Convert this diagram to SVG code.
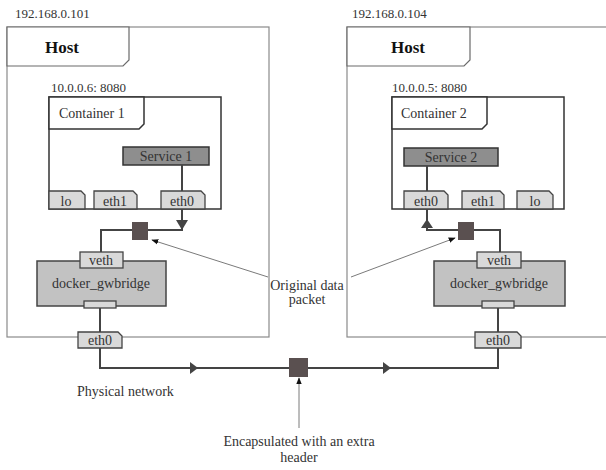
<svg xmlns="http://www.w3.org/2000/svg" width="606" height="470" viewBox="0 0 606 470">
  <style>
    text { font-family: "Liberation Serif", "DejaVu Serif", serif; fill: #333; }
    .ip { font-size: 13px; }
    .lbl { font-size: 14px; }
    .hosttitle { font-size: 17px; font-weight: bold; fill: #111; }
    .host { fill: #fff; stroke: #8a8a8a; stroke-width: 1.2; }
    .hosttab { fill: #fff; stroke: #6a6a6a; stroke-width: 1.2; }
    .cont { fill: #fff; stroke: #333; stroke-width: 1.5; }
    .svc { fill: #8e8e8e; stroke: #333; stroke-width: 1.5; }
    .iface { fill: #d9d9d9; stroke: #444; stroke-width: 1.3; }
    .bridge { fill: #c2c2c2; stroke: #444; stroke-width: 1.5; }
    .pkt { fill: #5a5050; }
    .wire { fill: none; stroke: #444; stroke-width: 2; }
    .head { fill: #444; }
    .call { fill: none; stroke: #7a7a7a; stroke-width: 1; }
  </style>
  <defs>
    <marker id="tip" viewBox="0 0 10 10" refX="9" refY="5" markerWidth="7" markerHeight="7" orient="auto">
      <path d="M0,1 L10,5 L0,9 Z" fill="#111"/>
    </marker>
  </defs>

  <!-- Left host -->
  <g id="host1">
    <text class="ip" x="15" y="18">192.168.0.101</text>
    <rect class="host" x="7" y="27" width="262" height="310"/>
    <path class="hosttab" d="M7,27 H129 V60 L123,66 H7 Z"/>
    <text class="hosttitle" x="45" y="53">Host</text>
  </g>
  <g id="container1">
    <text class="ip" x="51" y="92">10.0.0.6: 8080</text>
    <rect class="cont" x="49" y="97" width="172" height="112"/>
    <path class="cont" d="M49,97 H144 V124 L139,129 H49 Z"/>
    <text class="lbl" x="59" y="118">Container 1</text>
  </g>
  <g id="service1">
    <rect class="svc" x="123" y="147" width="86" height="18"/>
    <text class="lbl" x="166" y="161" text-anchor="middle">Service 1</text>
  </g>
  <g id="c1-lo">
    <path class="iface" d="M49,209 V191 H81 L85,195 V209 Z"/>
    <text class="lbl" x="66" y="206" text-anchor="middle">lo</text>
  </g>
  <g id="c1-eth1">
    <path class="iface" d="M94,209 V191 H133 L137,195 V209 Z"/>
    <text class="lbl" x="115" y="206" text-anchor="middle">eth1</text>
  </g>
  <g id="c1-eth0">
    <path class="iface" d="M161,209 V191 H201 L205,195 V209 Z"/>
    <text class="lbl" x="182" y="206" text-anchor="middle">eth0</text>
  </g>
  <g id="bridge1">
    <rect class="bridge" x="37" y="261" width="129" height="45"/>
    <rect class="iface" x="80" y="252" width="43" height="16"/>
    <text class="lbl" x="101" y="265" text-anchor="middle">veth</text>
    <text class="lbl" x="101" y="288" text-anchor="middle">docker_gwbridge</text>
    <rect class="iface" x="84" y="301" width="32" height="7"/>
  </g>
  <g id="host1-eth0">
    <path class="iface" d="M78,348 V332 H118 L122,336 V348 Z"/>
    <text class="lbl" x="100" y="345" text-anchor="middle">eth0</text>
  </g>

  <!-- Right host -->
  <g id="host2">
    <text class="ip" x="352" y="18">192.168.0.104</text>
    <rect class="host" x="347" y="27" width="300" height="310"/>
    <path class="hosttab" d="M347,27 H470 V60 L464,66 H347 Z"/>
    <text class="hosttitle" x="391" y="53">Host</text>
  </g>
  <g id="container2">
    <text class="ip" x="392" y="92">10.0.0.5: 8080</text>
    <rect class="cont" x="392" y="97" width="172" height="112"/>
    <path class="cont" d="M392,97 H487 V124 L482,129 H392 Z"/>
    <text class="lbl" x="401" y="118">Container 2</text>
  </g>
  <g id="service2">
    <rect class="svc" x="404" y="148" width="94" height="18"/>
    <text class="lbl" x="451" y="162" text-anchor="middle">Service 2</text>
  </g>
  <g id="c2-eth0">
    <path class="iface" d="M404,209 V191 H444 L448,195 V209 Z"/>
    <text class="lbl" x="426" y="206" text-anchor="middle">eth0</text>
  </g>
  <g id="c2-eth1">
    <path class="iface" d="M462,209 V191 H500 L504,195 V209 Z"/>
    <text class="lbl" x="483" y="206" text-anchor="middle">eth1</text>
  </g>
  <g id="c2-lo">
    <path class="iface" d="M517,209 V191 H549 L553,195 V209 Z"/>
    <text class="lbl" x="535" y="206" text-anchor="middle">lo</text>
  </g>
  <g id="bridge2">
    <rect class="bridge" x="434" y="261" width="131" height="45"/>
    <rect class="iface" x="477" y="252" width="44" height="16"/>
    <text class="lbl" x="499" y="265" text-anchor="middle">veth</text>
    <text class="lbl" x="499" y="288" text-anchor="middle">docker_gwbridge</text>
    <rect class="iface" x="482" y="301" width="32" height="7"/>
  </g>
  <g id="host2-eth0">
    <path class="iface" d="M475,348 V332 H517 L521,336 V348 Z"/>
    <text class="lbl" x="498" y="345" text-anchor="middle">eth0</text>
  </g>

  <!-- Links between services, interfaces and bridges -->
  <g id="connectors">
    <path class="wire" d="M182,165 V191"/>
    <path class="wire" d="M182,209 V230 H101 V252"/>
    <polygon class="head" points="176,220 188,220 182,230"/>
    <path class="wire" d="M100,308 V332"/>
    <path class="wire" d="M100,348 V368 H498 V348"/>
    <polygon class="head" points="190,362 198,368 190,374"/>
    <polygon class="head" points="383,362 391,368 383,374"/>
    <path class="wire" d="M498,308 V332"/>
    <path class="wire" d="M427,166 V191"/>
    <path class="wire" d="M427,209 V230 H500 V252"/>
    <polygon class="head" points="421,228 433,228 427,219"/>
    <!-- callouts -->
    <path class="call" d="M268,277 L152,240" marker-end="url(#tip)"/>
    <path class="call" d="M351,277 L455,238" marker-end="url(#tip)"/>
    <path class="call" d="M299,428 V378" marker-end="url(#tip)"/>
  </g>

  <!-- Packets -->
  <g id="packet1"><rect class="pkt" x="132" y="222" width="16" height="18"/></g>
  <g id="packet2"><rect class="pkt" x="458" y="222" width="16" height="18"/></g>
  <g id="packet-wire"><rect class="pkt" x="289" y="358" width="19" height="19"/></g>

  <!-- Labels -->
  <g id="labels">
    <text class="lbl" x="307" y="290" text-anchor="middle">Original data</text>
    <text class="lbl" x="307" y="304" text-anchor="middle">packet</text>
    <text class="lbl" x="77" y="396">Physical network</text>
    <text class="lbl" x="299" y="446" text-anchor="middle">Encapsulated with an extra</text>
    <text class="lbl" x="299" y="462" text-anchor="middle">header</text>
  </g>
</svg>
